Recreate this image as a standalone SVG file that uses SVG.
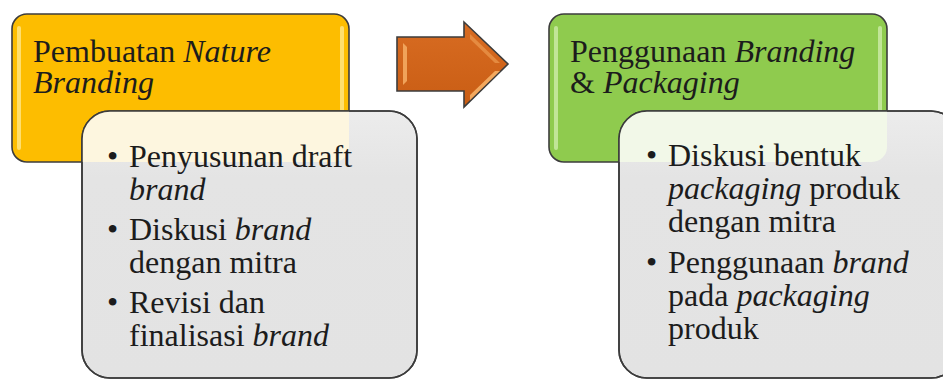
<svg xmlns="http://www.w3.org/2000/svg" width="943" height="379" viewBox="0 0 943 379">
  <style>
    .frame { stroke: #3c3c3c; stroke-width: 1.6; }
    text { font-family: 'Liberation Serif', 'Times New Roman', Times, serif; font-size: 32px; fill: #1c1c1c; }
    .it { font-style: italic; }
  </style>
  <defs>
    <linearGradient id="arrowFill" x1="0" y1="0" x2="0" y2="1">
      <stop offset="0" stop-color="#d86c22"/>
      <stop offset="1" stop-color="#c95d14"/>
    </linearGradient>
    <linearGradient id="cardFill" x1="0" y1="0" x2="0" y2="1">
      <stop offset="0" stop-color="#ececec"/>
      <stop offset="0.25" stop-color="#e4e4e4"/>
      <stop offset="1" stop-color="#e3e3e3"/>
    </linearGradient>
    <clipPath id="clipCardLeft">
      <rect x="82" y="111" width="335" height="267" rx="28" ry="28"/>
    </clipPath>
    <clipPath id="clipCardRight">
      <rect x="619" y="111" width="340" height="267" rx="28" ry="28"/>
    </clipPath>
  </defs>

  <!-- Stage 1 heading -->
  <g id="stage1-heading">
    <rect class="frame" x="12" y="14" width="337" height="148" rx="15" ry="15" fill="#fdbd00"/>
    <rect x="17" y="26" width="4" height="124" rx="2" fill="#ffe27a" opacity="0.9"/>
    <rect x="340" y="26" width="4" height="124" rx="2" fill="#ffe27a" opacity="0.9"/>
    <g font-family="Liberation Serif">
      <text x="33" y="62">Pembuatan <tspan class="it">Nature</tspan></text>
      <text class="it" x="33" y="93">Branding</text>
    </g>
  </g>

  <!-- Stage 1 details -->
  <g id="stage1-details">
    <rect class="frame" x="82" y="111" width="335" height="267" rx="28" ry="28" fill="url(#cardFill)"/>
    <g clip-path="url(#clipCardLeft)">
      <rect x="12" y="14" width="337" height="148" rx="15" ry="15" fill="#fdf6df"/>
    </g>
    <rect x="82" y="111" width="335" height="267" rx="28" ry="28" fill="none" class="frame"/>
    <g font-family="Liberation Serif">
      <text x="107" y="167">•</text>
      <text x="129" y="167">Penyusunan draft</text>
      <text class="it" x="129" y="200">brand</text>
      <text x="107" y="240">•</text>
      <text x="129" y="240">Diskusi <tspan class="it">brand</tspan></text>
      <text x="129" y="273">dengan mitra</text>
      <text x="107" y="313">•</text>
      <text x="129" y="313">Revisi dan</text>
      <text x="129" y="346">finalisasi <tspan class="it">brand</tspan></text>
    </g>
  </g>

  <!-- Flow arrow between the stages -->
  <g id="connectors">
    <path class="frame" d="M397,37 L464,37 L464,22 L508,64 L464,107 L464,91 L397,91 Z" fill="url(#arrowFill)"/>
    <path d="M403,43 L407,47 L407,81 L403,85 Z" fill="#f0a35a"/>
    <path d="M470,34 L500,63 L495,63 L470,39 Z" fill="#e8934a" opacity="0.8"/>
    <path d="M470,95 L495,71 L500,71 L470,100 Z" fill="#f2a85e"/>
  </g>

  <!-- Stage 2 heading -->
  <g id="stage2-heading">
    <rect class="frame" x="549" y="14" width="338" height="148" rx="15" ry="15" fill="#8fcb4e"/>
    <rect x="554" y="26" width="4" height="124" rx="2" fill="#c6e8a0" opacity="0.9"/>
    <rect x="878" y="26" width="4" height="124" rx="2" fill="#c6e8a0" opacity="0.9"/>
    <g font-family="Liberation Serif">
      <text x="570" y="62">Penggunaan <tspan class="it">Branding</tspan></text>
      <text x="570" y="93">&amp; <tspan class="it">Packaging</tspan></text>
    </g>
  </g>

  <!-- Stage 2 details -->
  <g id="stage2-details">
    <rect class="frame" x="619" y="111" width="340" height="267" rx="28" ry="28" fill="url(#cardFill)"/>
    <g clip-path="url(#clipCardRight)">
      <rect x="549" y="14" width="338" height="148" rx="15" ry="15" fill="#f2f8e8"/>
    </g>
    <rect x="619" y="111" width="340" height="267" rx="28" ry="28" fill="none" class="frame"/>
    <g font-family="Liberation Serif">
      <text x="646" y="166">•</text>
      <text x="668" y="166">Diskusi bentuk</text>
      <text x="668" y="199"><tspan class="it">packaging</tspan> produk</text>
      <text x="668" y="232">dengan mitra</text>
      <text x="646" y="273">•</text>
      <text x="668" y="273">Penggunaan <tspan class="it">brand</tspan></text>
      <text x="668" y="306">pada <tspan class="it">packaging</tspan></text>
      <text x="668" y="339">produk</text>
    </g>
  </g>
</svg>
